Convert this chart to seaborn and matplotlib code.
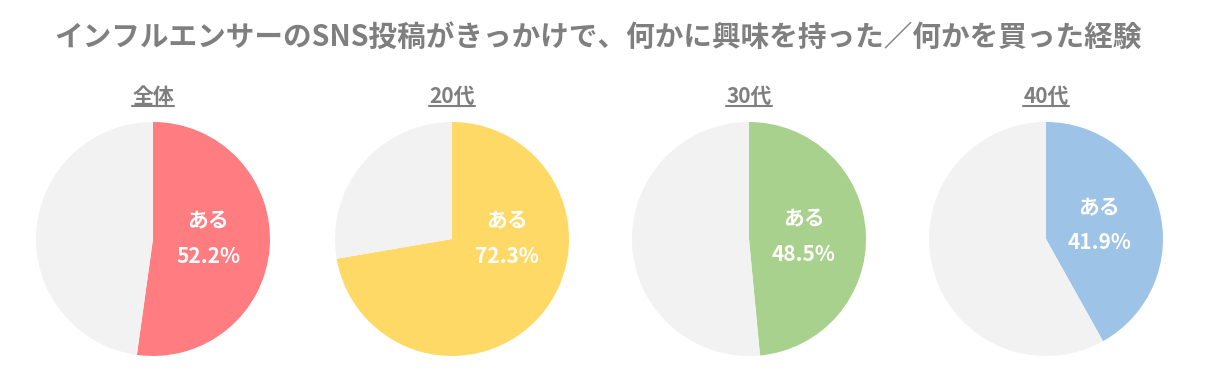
import matplotlib
matplotlib.use("Agg")
import matplotlib.pyplot as plt
import seaborn as sns
import numpy as np
from matplotlib.lines import Line2D

sns.set_theme(style="white")
plt.rcParams['font.family'] = ['Noto Sans CJK JP', 'DejaVu Sans']

title = 'インフルエンサーのSNS投稿がきっかけで、何かに興味を持った／何かを買った経験'
groups = ['全体', '20代', '30代', '40代']
yes_pct = [52.2, 72.3, 48.5, 41.9]
yes_label = 'ある'
colors = ['#FF7C80', '#FFD966', '#A9D18E', '#9DC3E6']
rest_color = '#F2F2F2'
grey = '#7F7F7F'

W, H = 1222, 388
fig = plt.figure(figsize=(W / 100, H / 100), dpi=100)
fig.patch.set_facecolor('white')

R = 117
cx_list = [153, 452, 749, 1046]
cy = H - 239

fig.text(598 / W, 1 - 37 / H, title, ha='center', va='center',
         fontsize=20.6, fontweight='bold', color=grey)

for i, (g, p, c) in enumerate(zip(groups, yes_pct, colors)):
    cx = cx_list[i]
    ax = fig.add_axes([(cx - R) / W, (cy - R) / H, 2 * R / W, 2 * R / H])
    ax.pie([p, 100 - p], colors=[c, rest_color], startangle=90,
           counterclock=False, radius=1.0,
           wedgeprops=dict(linewidth=0))
    ax.set_xlim(-1, 1)
    ax.set_ylim(-1, 1)
    ax.set_aspect('equal')
    ax.axis('off')

    # label placed inside the coloured wedge, toward its middle
    mid = np.deg2rad(max(90 - 360 * p / 100 / 2, 0))
    lx, ly = 0.47 * np.cos(mid), 0.47 * np.sin(mid)
    ax.text(lx, ly, f'{yes_label}\n{p:.1f}%', ha='center', va='center',
            fontsize=15, fontweight='bold', color='white', linespacing=1.85)

    t = ax.text(0, 1.22, g, ha='center', va='center', fontsize=15,
                fontweight='bold', color=grey)

fig.canvas.draw()
renderer = fig.canvas.get_renderer()
for ax in fig.axes:
    for t in ax.texts:
        if t.get_text() in groups:
            bb = t.get_window_extent(renderer)
            y = (bb.y0 + 1) / H
            fig.add_artist(Line2D([bb.x0 / W, bb.x1 / W], [y, y],
                                  color=grey, linewidth=1.5))

fig.savefig('out.png', dpi=100, facecolor='white')
